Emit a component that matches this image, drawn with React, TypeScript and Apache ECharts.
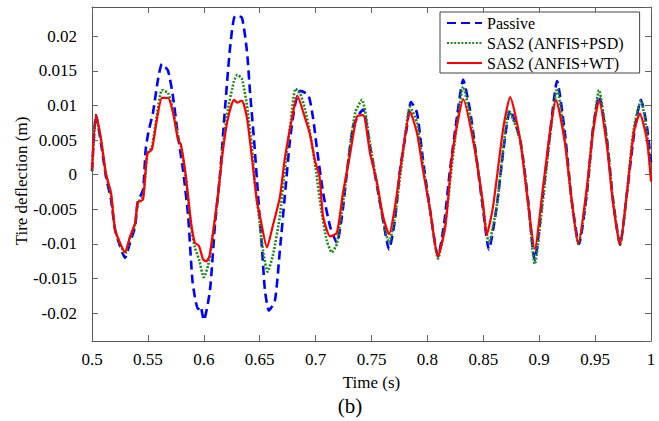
import React, { useEffect, useRef } from "react";
import * as echarts from "echarts";

const xTicks = [0.5, 0.55, 0.6, 0.65, 0.7, 0.75, 0.8, 0.85, 0.9, 0.95, 1];
const seriesNames = ["Passive", "SAS2 (ANFIS+PSD)", "SAS2 (ANFIS+WT)"];

const passive: [number, number][] = [
  [0.5, 0.0005], [0.5036, 0.0086], [0.508, 0.0046], [0.5125, -0.0003], [0.517, -0.0036],
  [0.5206, -0.0079], [0.525, -0.0103], [0.5295, -0.012], [0.534, -0.0098], [0.5385, -0.0075],
  [0.541, -0.0039], [0.5456, -0.0022], [0.548, 0.0036], [0.5505, 0.0062], [0.5545, 0.0089],
  [0.559, 0.0137], [0.5626, 0.016], [0.568, 0.015], [0.5725, 0.0112], [0.577, 0.0055],
  [0.5814, 0.0007], [0.586, -0.006], [0.59, -0.0155], [0.5948, -0.0194], [0.597, -0.019],
  [0.6, -0.021], [0.6055, -0.0167], [0.61, -0.0072], [0.6145, 0.0], [0.619, 0.0096],
  [0.6235, 0.0183], [0.628, 0.0229], [0.634, 0.0227], [0.6386, 0.0178], [0.6413, 0.012],
  [0.645, 0.0049], [0.6485, -0.0029], [0.652, -0.0105], [0.6547, -0.0167], [0.6583, -0.0196],
  [0.6637, -0.0181], [0.668, -0.011], [0.6726, -0.0029], [0.677, 0.0049], [0.6816, 0.0101],
  [0.686, 0.0121], [0.6935, 0.0115], [0.6977, 0.0082], [0.701, 0.004], [0.7067, -0.0026],
  [0.713, -0.0075], [0.719, -0.0098], [0.7236, -0.006], [0.728, 0.0003], [0.7335, 0.0069],
  [0.7397, 0.0089], [0.7425, 0.0094], [0.7487, 0.004], [0.755, -0.0017], [0.7603, -0.0065],
  [0.7657, -0.0108], [0.771, -0.0065], [0.7755, 0.0007], [0.7817, 0.0069], [0.7853, 0.0105],
  [0.7907, 0.0089], [0.796, 0.0022], [0.8023, -0.005], [0.8095, -0.0118], [0.815, -0.007],
  [0.8202, 0.0007], [0.8265, 0.0084], [0.832, 0.0137], [0.838, 0.0094], [0.844, 0.0023],
  [0.8497, -0.0049], [0.855, -0.0108], [0.862, -0.0046], [0.868, 0.0036], [0.874, 0.0093],
  [0.883, 0.005], [0.89, -0.0036], [0.896, -0.0123], [0.9035, -0.0026], [0.9097, 0.006],
  [0.916, 0.0135], [0.923, 0.006], [0.929, -0.0036], [0.9356, -0.01], [0.9427, -0.0026],
  [0.948, 0.0065], [0.9535, 0.0113], [0.9606, 0.005], [0.966, -0.0036], [0.9723, -0.0101],
  [0.9785, -0.0026], [0.9857, 0.0069], [0.991, 0.0108], [0.9964, 0.0069], [1.0, 0.0018],
];

const psd: [number, number][] = [
  [0.5, 0.0005], [0.5036, 0.0085], [0.508, 0.005], [0.5125, 0.0], [0.517, -0.003],
  [0.5206, -0.0079], [0.525, -0.01], [0.5295, -0.0114], [0.534, -0.0092], [0.5385, -0.0072],
  [0.541, -0.004], [0.5456, -0.0032], [0.5495, 0.003], [0.5535, 0.004], [0.558, 0.0085],
  [0.5626, 0.0122], [0.568, 0.0118], [0.5725, 0.0092], [0.577, 0.0055], [0.5796, 0.004],
  [0.584, -0.0005], [0.5886, -0.0075], [0.592, -0.0105], [0.5957, -0.0122], [0.6, -0.0148],
  [0.604, -0.013], [0.608, -0.009], [0.6127, -0.003], [0.617, 0.004], [0.6217, 0.0095],
  [0.627, 0.0135], [0.63, 0.0144], [0.634, 0.0139], [0.6386, 0.01], [0.643, 0.004],
  [0.6458, -0.0014], [0.65, -0.007], [0.6535, -0.0115], [0.657, -0.014], [0.662, -0.0115],
  [0.668, -0.006], [0.6726, 0.001], [0.678, 0.008], [0.682, 0.0124], [0.686, 0.0118],
  [0.6905, 0.0095], [0.695, 0.006], [0.7, 0.001], [0.705, -0.005], [0.71, -0.0095],
  [0.7145, -0.0112], [0.719, -0.01], [0.7245, -0.004], [0.73, 0.003], [0.7355, 0.009],
  [0.7415, 0.0108], [0.7487, 0.0045], [0.755, -0.0015], [0.7603, -0.0065], [0.7657, -0.0098],
  [0.771, -0.006], [0.777, 0.0015], [0.7845, 0.0098], [0.7907, 0.0075], [0.796, 0.0015],
  [0.8023, -0.005], [0.8095, -0.0121], [0.816, -0.007], [0.822, 0.0015], [0.8274, 0.0085],
  [0.832, 0.0127], [0.838, 0.0085], [0.844, 0.0023], [0.8497, -0.0045], [0.855, -0.0098],
  [0.862, -0.0045], [0.868, 0.004], [0.873, 0.0091], [0.883, 0.005], [0.89, -0.004],
  [0.896, -0.0129], [0.9035, -0.0035], [0.9097, 0.0055], [0.916, 0.0124], [0.923, 0.005],
  [0.929, -0.0038], [0.935, -0.01], [0.9427, -0.0025], [0.948, 0.0062], [0.9535, 0.0122],
  [0.9606, 0.005], [0.966, -0.0036], [0.9723, -0.0101], [0.9785, -0.0026], [0.9845, 0.0066],
  [0.991, 0.0107], [0.9964, 0.006], [1.0, 0.0],
];

const wt: [number, number][] = [
  [0.5, 0.0007], [0.5036, 0.0086], [0.508, 0.0052], [0.5125, 0.0001], [0.517, -0.0026],
  [0.5206, -0.0079], [0.525, -0.0098], [0.5295, -0.0112], [0.534, -0.0089], [0.5385, -0.007],
  [0.541, -0.004], [0.5456, -0.0036], [0.5495, 0.0031], [0.5535, 0.0036], [0.558, 0.0079],
  [0.5626, 0.0111], [0.568, 0.0111], [0.5725, 0.0089], [0.577, 0.005], [0.5796, 0.0043],
  [0.584, -0.0003], [0.5886, -0.0069], [0.592, -0.0098], [0.5957, -0.0103], [0.5993, -0.0122],
  [0.602, -0.0125], [0.605, -0.0118], [0.608, -0.0086], [0.6127, -0.0029], [0.617, 0.0034],
  [0.6217, 0.0082], [0.627, 0.0108], [0.63, 0.0104], [0.634, 0.0107], [0.6386, 0.0082],
  [0.643, 0.0025], [0.6475, -0.0038], [0.651, -0.0066], [0.6565, -0.0105], [0.662, -0.0072],
  [0.668, -0.0033], [0.6726, 0.0025], [0.679, 0.0082], [0.6836, 0.0114], [0.6905, 0.0082],
  [0.695, 0.0058], [0.6995, 0.002], [0.7035, -0.0003], [0.7067, -0.006], [0.713, -0.0089],
  [0.719, -0.0084], [0.7245, -0.0026], [0.731, 0.0031], [0.737, 0.0084], [0.7425, 0.0086],
  [0.7487, 0.0031], [0.755, -0.0012], [0.7603, -0.006], [0.7657, -0.0086], [0.771, -0.0046],
  [0.777, 0.0022], [0.7845, 0.0091], [0.7907, 0.006], [0.796, 0.0007], [0.8023, -0.005],
  [0.8095, -0.0118], [0.816, -0.0075], [0.822, 0.0026], [0.8274, 0.0079], [0.832, 0.0109],
  [0.8408, 0.005], [0.8497, -0.0041], [0.853, -0.0087], [0.8587, -0.0046], [0.868, 0.0069],
  [0.874, 0.0112], [0.883, 0.005], [0.89, -0.0041], [0.896, -0.0107], [0.9035, -0.0017],
  [0.9097, 0.0063], [0.915, 0.0108], [0.923, 0.0046], [0.929, -0.0036], [0.935, -0.01],
  [0.9427, -0.0017], [0.948, 0.006], [0.9535, 0.0107], [0.9606, 0.0041], [0.966, -0.0041],
  [0.9723, -0.0101], [0.9785, -0.0026], [0.9845, 0.006], [0.99, 0.0088], [0.9964, 0.005],
  [1.0, -0.001],
];

const FONT = "serif";

export default function App() {
  const ref = useRef<HTMLDivElement>(null);
  useEffect(() => {
    if (!ref.current) return;
    const chart = echarts.init(ref.current, undefined, { renderer: "svg" });
    const axisLine = { show: true, onZero: false, lineStyle: { color: "#555", width: 1 } };
    const tickIn = { show: true, inside: true, length: 6, lineStyle: { color: "#666" } };
    chart.setOption({
      animation: false,
      backgroundColor: "#fff",
      grid: { left: 92, right: 8, top: 7, bottom: 80 },
      legend: {
        orient: "vertical",
        left: 440,
        top: 12,
        data: seriesNames,
        itemWidth: 35,
        itemHeight: 14,
        itemGap: 4,
        padding: [3, 16, 2, 6],
        borderColor: "#444",
        borderWidth: 1,
        borderRadius: 0,
        backgroundColor: "#fff",
        itemStyle: { opacity: 0 },
        textStyle: { fontFamily: FONT, fontWeight: "normal", fontSize: 16, color: "#000" },
      },
      xAxis: [
        {
          type: "value",
          min: 0.5,
          max: 1,
          interval: 0.05,
          name: "Time (s)",
          nameLocation: "middle",
          nameGap: 33,
          nameTextStyle: { fontFamily: FONT, fontWeight: "normal", fontSize: 17, color: "#000" },
          axisLine,
          axisTick: tickIn,
          splitLine: { show: false },
          axisLabel: {
            fontFamily: FONT,
            fontWeight: "normal",
            fontSize: 17,
            color: "#000",
            margin: 10,
            formatter: (v: number) => {
              const m = xTicks.find((t) => Math.abs(t - v) < 1e-6);
              return m === undefined ? "" : String(m);
            },
          },
        },
        {
          type: "value",
          position: "top",
          min: 0.5,
          max: 1,
          interval: 0.05,
          axisLine,
          axisTick: tickIn,
          axisLabel: { show: false },
          splitLine: { show: false },
        },
      ],
      yAxis: [
        {
          type: "value",
          min: -0.024,
          max: 0.0242,
          splitNumber: 10,
          axisLine,
          axisTick: tickIn,
          splitLine: { show: false },
          axisLabel: {
            fontFamily: FONT,
            fontWeight: "normal",
            fontSize: 17,
            color: "#000",
            margin: 15,
            showMinLabel: false,
            showMaxLabel: false,
          },
        },
        {
          type: "value",
          position: "right",
          min: -0.024,
          max: 0.0242,
          splitNumber: 10,
          axisLine,
          axisTick: tickIn,
          axisLabel: { show: false },
          splitLine: { show: false },
        },
      ],
      graphic: [
        {
          type: "text",
          x: 21,
          y: 181,
          rotation: Math.PI / 2,
          style: {
            text: "Tire deflection (m)",
            fontFamily: FONT,
            fontSize: 17,
            fill: "#000",
            align: "center",
            verticalAlign: "middle",
          },
        },
        {
          type: "text",
          x: 350,
          y: 406,
          style: {
            text: "(b)",
            fontFamily: FONT,
            fontSize: 21,
            fill: "#000",
            align: "center",
            verticalAlign: "middle",
          },
        },
      ],
      series: [
        {
          name: seriesNames[0],
          type: "line",
          data: passive,
          symbol: "none",
          smooth: 0.2,
          z: 2,
          lineStyle: { color: "#0000ff", width: 2.6, type: [9, 5] },
          itemStyle: { color: "#0000ff" },
        },
        {
          name: seriesNames[1],
          type: "line",
          data: psd,
          symbol: "none",
          smooth: 0.2,
          z: 3,
          lineStyle: { color: "#1e8a1e", width: 2.6, type: [2, 1.6] },
          itemStyle: { color: "#1e8a1e" },
        },
        {
          name: seriesNames[2],
          type: "line",
          data: wt,
          symbol: "none",
          smooth: 0.2,
          z: 4,
          lineStyle: { color: "#ff0000", width: 2.2 },
          itemStyle: { color: "#ff0000" },
        },
      ],
    });
    return () => chart.dispose();
  }, []);
  return (
    <div
      ref={ref}
      style={{ position: "fixed", left: 0, top: 0, width: 659, height: 421, background: "#fff" }}
    />
  );
}
